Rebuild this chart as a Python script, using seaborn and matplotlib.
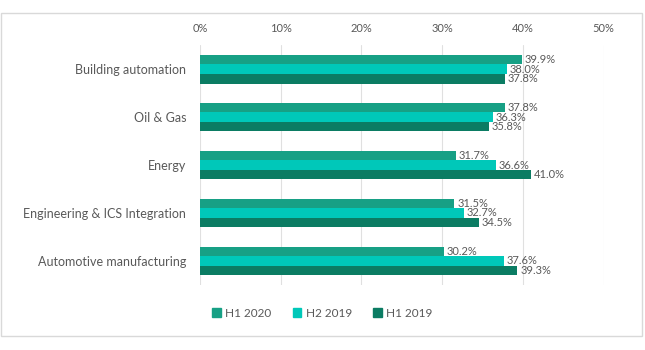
import pandas as pd
import matplotlib.pyplot as plt
import seaborn as sns
from matplotlib.patches import Rectangle
from matplotlib.ticker import PercentFormatter

# -----------------------------
# Chart data (share of ICS computers attacked, %)
# -----------------------------
industries = ['Building automation', 'Oil & Gas', 'Energy',
              'Engineering & ICS Integration', 'Automotive manufacturing']
periods = ['H1 2020', 'H2 2019', 'H1 2019']
h1_2020 = [39.9, 37.8, 31.7, 31.5, 30.2]
h2_2019 = [38.0, 36.3, 36.6, 32.7, 37.6]
h1_2019 = [37.8, 35.8, 41.0, 34.5, 39.3]

colors = ['#17a085', '#00c8b9', '#0b7c63']

df = pd.DataFrame({
    'industry': industries * 3,
    'period': [periods[0]] * 5 + [periods[1]] * 5 + [periods[2]] * 5,
    'value': h1_2020 + h2_2019 + h1_2019,
})

# -----------------------------
# Plot
# -----------------------------
sns.set_style('white')
plt.rcParams['font.family'] = ['Lato', 'DejaVu Sans']
text_col = '#595959'

fig = plt.figure(figsize=(6.45, 3.5), dpi=100)
ax = fig.add_axes([0.310, 0.186, 0.626, 0.685])

sns.barplot(data=df, x='value', y='industry', hue='period', order=industries,
            hue_order=periods, palette=colors, orient='h', width=0.6,
            saturation=1, errorbar=None, linewidth=0, legend=False, ax=ax)

for cont in ax.containers:
    ax.bar_label(cont, fmt='%.1f%%', padding=2, fontsize=8, color=text_col)

ax.set_xlim(0, 50)
ax.xaxis.set_major_formatter(PercentFormatter(decimals=0))
ax.xaxis.tick_top()
ax.tick_params(axis='x', length=0, pad=8, labelsize=8, labelcolor=text_col)
ax.tick_params(axis='y', length=0, pad=10, labelsize=9, labelcolor=text_col)
ax.grid(axis='x', color='#e0e0e0', linewidth=0.8)
ax.set_axisbelow(True)
for s in ax.spines.values():
    s.set_visible(False)
ax.set_xlabel('')
ax.set_ylabel('')

handles = [Rectangle((0, 0), 1, 1, color=c) for c in colors]
fig.legend(handles, periods, loc='center', bbox_to_anchor=(0.5, 0.105), ncol=3,
           frameon=False, fontsize=8.5, labelcolor=text_col,
           handlelength=0.7, handleheight=0.7, handletextpad=0.4,
           columnspacing=1.8)

# outer chart border
fig.patches.append(Rectangle((0.002, 0.04), 0.993, 0.923, transform=fig.transFigure,
                             fill=False, edgecolor='#d9d9d9', linewidth=1))

plt.savefig('out.png', dpi=100)
